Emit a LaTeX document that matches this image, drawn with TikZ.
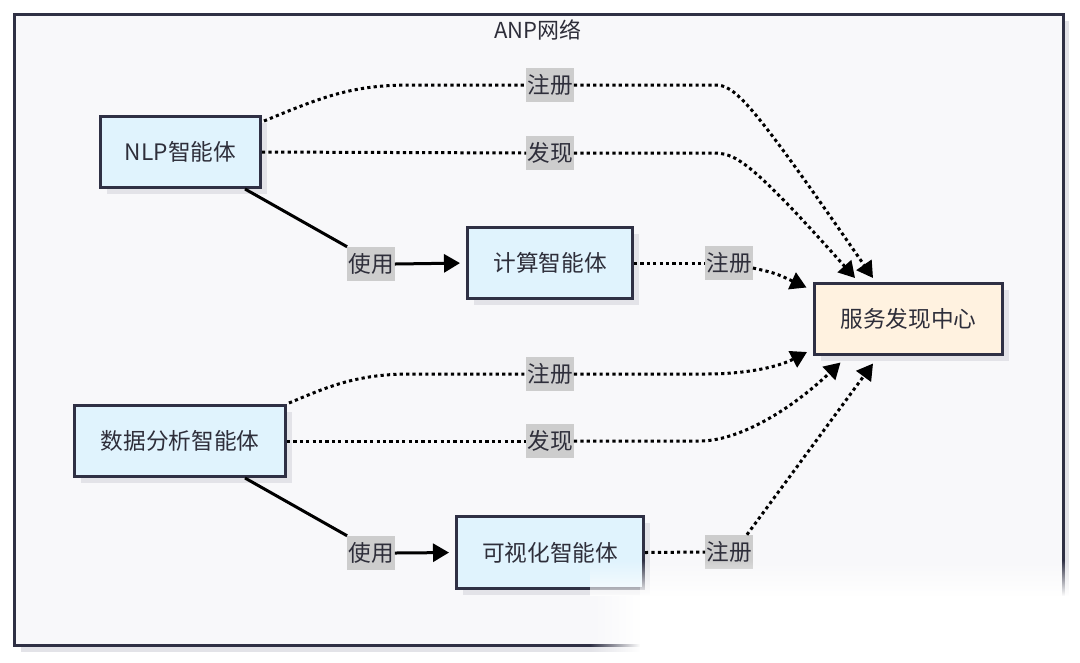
\documentclass[tikz,border=0pt]{standalone}
\usepackage{fontspec}
\setmainfont{Noto Sans CJK SC}
\usetikzlibrary{arrows.meta,calc,fadings,shadows}

\definecolor{inkline}{HTML}{2F3044}
\definecolor{canvasbg}{HTML}{F8F8FA}
\definecolor{agentfill}{HTML}{E0F3FD}
\definecolor{hubfill}{HTML}{FFF2E0}
\definecolor{tagfill}{HTML}{CDCDCD}
\definecolor{shadowgray}{HTML}{E3E3E8}
\definecolor{textdark}{HTML}{2E2E3A}

\tikzfading[name=hazefade, top color=transparent!100, bottom color=transparent!0]
\tikzfading[name=hazeside, left color=transparent!100, right color=transparent!0]

\begin{document}
\begin{tikzpicture}[x=0.75pt, y=-0.75pt,
  boxfont/.style={font=\fontsize{17}{20}\selectfont},
  box/.style={draw=inkline, line width=2.25pt, text=textdark, boxfont,
    minimum height=71*0.75pt, inner sep=0pt,
    general shadow={fill=shadowgray, shadow xshift=4.5pt, shadow yshift=-4.5pt}},
  agent/.style={box, fill=agentfill},
  hub/.style={box, fill=hubfill},
  tag/.style={fill=tagfill, text=textdark, boxfont, inner xsep=0.75pt,
    inner ysep=0pt, minimum height=25.5pt},
  link/.style={line width=2.25pt, black},
  dotlink/.style={link, dash pattern=on 2.4pt off 2.4pt},
  arrowed/.style={-{Triangle[length=12pt,width=13.5pt]}},
]
\useasboundingbox (0,0) rectangle (1080,662);
\fill[white] (0,0) rectangle (1080,662);

% cluster frame
\node[draw=inkline, line width=2.25pt, fill=canvasbg, inner sep=0pt,
  minimum width=1048.5*0.75pt, minimum height=631*0.75pt,
  general shadow={fill=shadowgray, shadow xshift=4.5pt, shadow yshift=-4.5pt}]
  (anp) at (538.75,330) {};
\node[font=\fontsize{16.5}{20}\selectfont, text=textdark] (title) at (538,30) {ANP网络};

% agents
\node[agent, minimum width=160*0.75pt] (nlp)  at (180.5,152) {NLP智能体};
\node[agent, minimum width=165*0.75pt] (comp) at (550,263)   {计算智能体};
\node[hub,   minimum width=188*0.75pt] (svc)  at (908.5,319) {服务发现中心};
\node[agent, minimum width=211*0.75pt] (data) at (180,441)   {数据分析智能体};
\node[agent, minimum width=187*0.75pt, minimum height=72*0.75pt] (viz) at (550,552.5) {可视化智能体};

% edge labels
\node[tag] (u1) at (371,264) {使用};
\node[tag] (u2) at (371,553) {使用};
\node[tag] (r1) at (550,85)  {注册};
\node[tag] (d1) at (550,153) {发现};
\node[tag] (r2) at (729,263) {注册};
\node[tag] (r3) at (550,374) {注册};
\node[tag] (d2) at (550,441) {发现};
\node[tag] (r4) at (729,552) {注册};

% arrival points on the service hub
\coordinate (inR1) at ($(svc.north west)+(60,-4)$);
\coordinate (inD1) at ($(svc.north west)+(42,-4)$);
\coordinate (inR2) at ($(svc.north west)+(-6.5,5.5)$);
\coordinate (inR3) at ($(svc.south west)+(-6,-4)$);
\coordinate (inD2) at ($(svc.south west)+(27.5,6.5)$);
\coordinate (inR4) at ($(svc.south west)+(60,7.5)$);

% NLP agent
\draw[dotlink] ($(nlp.north east)+(2,6)$) .. controls (320,98) and (350,85) .. (410,85) -- (r1.west);
\draw[dotlink, arrowed] (r1.east) -- (715,85) .. controls (735,85) and (750,100) .. (inR1);
\draw[dotlink] (nlp.east) -- (d1.west);
\draw[dotlink, arrowed] (d1.east) -- (712,153) .. controls (735,153) and (748,158) .. (inD1);
\draw[link] ($(nlp.south east)+(-17,0)$) -- (u1.north west);
\draw[link, arrowed, shorten >=4.5pt] (u1.east) -- (comp.west);
\draw[dotlink] (comp.east) -- (r2.west);
\draw[dotlink, arrowed] ($(r2.east)+(0,5)$) .. controls (775,273) .. (inR2);

% data analysis agent
\draw[dotlink] ($(data.north east)+(2,-1)$) .. controls (325,388) and (355,374) .. (410,374) -- (r3.west);
\draw[dotlink, arrowed] (r3.east) -- (705,374) .. controls (750,374) and (780,366) .. (inR3);
\draw[dotlink] (data.east) -- (d2.west);
\draw[dotlink, arrowed] (d2.east) -- (700,441) .. controls (735,441) and (785,415) .. (inD2);
\draw[link] ($(data.south east)+(-42,0)$) -- (u2.north west);
\draw[link, arrowed, shorten >=4.5pt] (u2.east) -- (viz.west);
\draw[dotlink] (viz.east) -- (r4.west);
\draw[dotlink, arrowed] ($(r4.north east)+(-6,0)$) -- (inR4);

% washed-out lower right corner
\fill[white, path fading=hazefade] (640,560) rectangle (1080,596);
\fill[white, path fading=hazeside] (590,596) rectangle (640,662);
\fill[white] (640,596) rectangle (1080,662);
\begin{scope}
  \clip (590,560) rectangle (640,596);
  \fill[white, path fading=hazefade, opacity=0.8] (590,560) rectangle (640,596);
\end{scope}
\end{tikzpicture}
\end{document}
